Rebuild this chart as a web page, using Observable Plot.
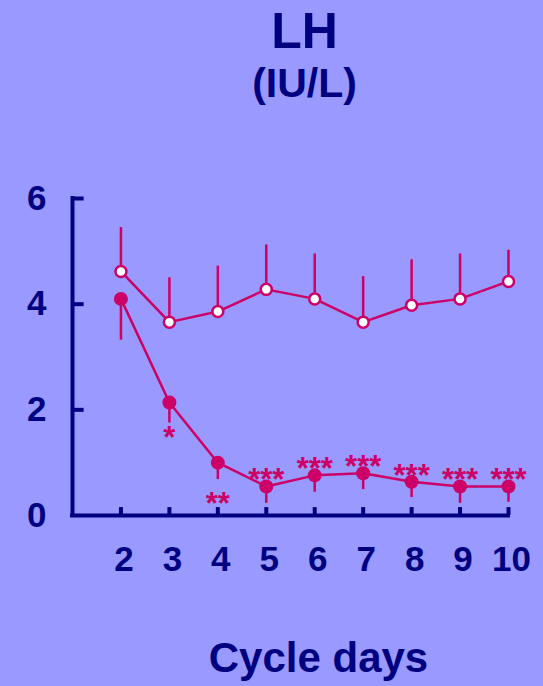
<!DOCTYPE html>
<html>
<head>
<meta charset="utf-8">
<script src="https://cdn.jsdelivr.net/npm/d3@7"></script>
<script src="https://cdn.jsdelivr.net/npm/@observablehq/plot@0.6"></script>
<style>
  html, body { margin: 0; padding: 0; background: #9999FF; }
  #wrap { position: relative; width: 543px; height: 686px; overflow: hidden; font-family: "Liberation Sans", Arial, sans-serif; font-weight: bold; color: #000080; }
  .t { position: absolute; left: 0; width: 100%; text-align: center; white-space: nowrap; line-height: 1; }
  #chart { position: absolute; left: 0; top: 0; }
  #chart svg text { font-weight: bold; }
</style>
</head>
<body>
<div id="wrap">
  <div id="chart"></div>
  <div class="t" id="title" style="top:6px; left:33px; font-size:50px;">LH</div>
  <div class="t" id="sub" style="top:63px; left:33px; font-size:41px;">(IU/L)</div>
  <div class="t" id="xlab" style="top:637px; left:47px; font-size:42px;">Cycle days</div>
</div>
<script>
const days = [2, 3, 4, 5, 6, 7, 8, 9, 10];
const controlMean = [4.62, 3.66, 3.86, 4.28, 4.10, 3.66, 3.98, 4.10, 4.43];
const controlErr  = [0.83, 0.84, 0.86, 0.84, 0.85, 0.86, 0.86, 0.85, 0.59];
const treatedMean = [4.10, 2.14, 1.00, 0.55, 0.76, 0.80, 0.64, 0.55, 0.55];
const treatedErr  = [0.78, 0.39, 0.32, 0.32, 0.32, 0.31, 0.30, 0.32, 0.30];
const sigLabels   = ["", "*", "**", "***", "***", "***", "***", "***", "***"];
const yTicks = [0, 2, 4, 6];
const xTicks = [2, 3, 4, 5, 6, 7, 8, 9, 10];

const navy = "#000080";
const mag = "#CC0066";

const control = days.map((d, i) => ({day: d, mean: controlMean[i], err: controlErr[i]}));
const treated = days.map((d, i) => ({day: d, mean: treatedMean[i], err: treatedErr[i], sig: sigLabels[i]}));

const plot = Plot.plot({
  width: 543,
  height: 686,
  marginLeft: 72,
  marginRight: 35,
  marginTop: 198,
  marginBottom: 171,
  style: {background: "transparent", fontFamily: "Liberation Sans, Arial, sans-serif", fontWeight: "bold", color: navy},
  x: {domain: [1, 10]},
  y: {domain: [0, 6]},
  marks: [
    // axes
    Plot.ruleX([1], {y1: 0, y2: 6, stroke: navy, strokeWidth: 4, strokeLinecap: "square"}),
    Plot.ruleY([0], {x1: 1, x2: 10, stroke: navy, strokeWidth: 4, strokeLinecap: "square"}),
    Plot.ruleY(yTicks.filter(t => t > 0), {x1: 1, x2: 1.24, stroke: navy, strokeWidth: 4}),
    Plot.ruleX(xTicks, {y1: 0, y2: 0.15, stroke: navy, strokeWidth: 4}),
    Plot.axisY(yTicks, {label: null, tickSize: 0, tickPadding: 26, fontSize: 35, fill: navy, tickFormat: d => String(d)}),
    Plot.axisX(xTicks, {label: null, tickSize: 0, tickPadding: 31, fontSize: 35, fill: navy, dx: 3, tickFormat: d => String(d)}),
    // error bars
    Plot.ruleX(control, {x: "day", y1: "mean", y2: d => d.mean + d.err, stroke: mag, strokeWidth: 2.5}),
    Plot.ruleX(treated, {x: "day", y1: d => d.mean - d.err, y2: "mean", stroke: mag, strokeWidth: 2.5}),
    // lines
    Plot.line(control, {x: "day", y: "mean", stroke: mag, strokeWidth: 2.5}),
    Plot.line(treated, {x: "day", y: "mean", stroke: mag, strokeWidth: 2.5}),
    // points
    Plot.dot(control, {x: "day", y: "mean", r: 5.5, fill: "white", stroke: mag, strokeWidth: 2.5}),
    Plot.dot(treated, {x: "day", y: "mean", r: 7, fill: mag, stroke: "none"}),
    // significance
    Plot.text(treated.filter(d => d.day >= 5), {x: "day", y: "mean", text: "sig", fill: mag, fontSize: 31, dy: -6}),
    Plot.text(treated.filter(d => d.day === 3), {x: "day", y: "mean", text: "sig", fill: mag, fontSize: 31, dy: 36}),
    Plot.text(treated.filter(d => d.day === 4), {x: "day", y: "mean", text: "sig", fill: mag, fontSize: 31, dy: 41})
  ]
});
document.getElementById("chart").appendChild(plot);
</script>
</body>
</html>
